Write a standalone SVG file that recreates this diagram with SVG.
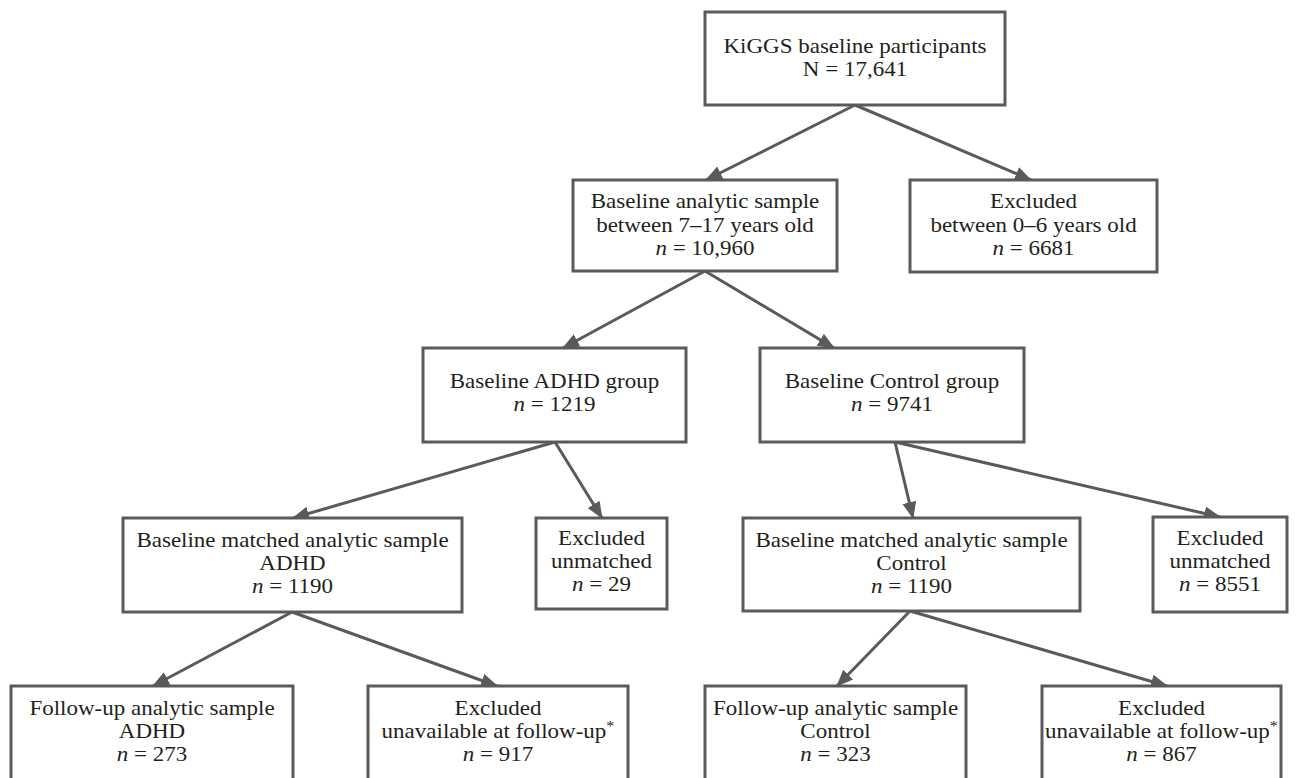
<svg xmlns="http://www.w3.org/2000/svg" width="1296" height="778" viewBox="0 0 1296 778">
<style>
.box{fill:#fff;stroke:#5a5a5a;stroke-width:3}
.t{font-family:"Liberation Serif","Times New Roman",serif;font-size:20px;fill:#231f20;text-anchor:middle}
.i{font-style:italic}
.s{font-size:14px}
.c{stroke:#5a5a5a;stroke-width:3;fill:none}
</style>
<defs>
<marker id="ah" markerUnits="userSpaceOnUse" markerWidth="20" markerHeight="16" refX="16" refY="7" orient="auto">
<path d="M0,0 L17,7 L0,14 z" fill="#5a5a5a"/>
</marker>
</defs>
<rect width="1296" height="778" fill="#fff"/>
<g id="connectors">
<line class="c" x1="855" y1="105" x2="706" y2="180" marker-end="url(#ah)"/>
<line class="c" x1="855" y1="105" x2="1031" y2="180" marker-end="url(#ah)"/>
<line class="c" x1="705" y1="271" x2="563" y2="348" marker-end="url(#ah)"/>
<line class="c" x1="705" y1="271" x2="834" y2="348" marker-end="url(#ah)"/>
<line class="c" x1="555" y1="442" x2="293" y2="518" marker-end="url(#ah)"/>
<line class="c" x1="555" y1="442" x2="602" y2="518" marker-end="url(#ah)"/>
<line class="c" x1="895" y1="442" x2="913" y2="518" marker-end="url(#ah)"/>
<line class="c" x1="895" y1="442" x2="1220" y2="517" marker-end="url(#ah)"/>
<line class="c" x1="292" y1="612" x2="153" y2="686" marker-end="url(#ah)"/>
<line class="c" x1="292" y1="612" x2="497" y2="686" marker-end="url(#ah)"/>
<line class="c" x1="910" y1="611" x2="837" y2="686" marker-end="url(#ah)"/>
<line class="c" x1="910" y1="611" x2="1167" y2="686" marker-end="url(#ah)"/>
</g>
<g id="n1"><rect class="box" x="705" y="12" width="300" height="93"/>
<g transform="translate(855 0) scale(1.15 1)">
<text class="t" x="0" y="53">KiGGS baseline participants</text>
<text class="t" x="0" y="76">N = 17,641</text></g></g>
<g id="n2"><rect class="box" x="573" y="180" width="264" height="91"/>
<g transform="translate(705 0) scale(1.15 1)">
<text class="t" x="0" y="208">Baseline analytic sample</text>
<text class="t" x="0" y="232">between 7–17 years old</text>
<text class="t" x="0" y="255"><tspan class="i">n</tspan> = 10,960</text></g></g>
<g id="n3"><rect class="box" x="910" y="180" width="247" height="92"/>
<g transform="translate(1033.5 0) scale(1.15 1)">
<text class="t" x="0" y="208">Excluded</text>
<text class="t" x="0" y="232">between 0–6 years old</text>
<text class="t" x="0" y="255"><tspan class="i">n</tspan> = 6681</text></g></g>
<g id="n4"><rect class="box" x="423" y="348" width="263" height="94"/>
<g transform="translate(554.5 0) scale(1.15 1)">
<text class="t" x="0" y="388">Baseline ADHD group</text>
<text class="t" x="0" y="411"><tspan class="i">n</tspan> = 1219</text></g></g>
<g id="n5"><rect class="box" x="760" y="348" width="264" height="94"/>
<g transform="translate(892 0) scale(1.15 1)">
<text class="t" x="0" y="388">Baseline Control group</text>
<text class="t" x="0" y="411"><tspan class="i">n</tspan> = 9741</text></g></g>
<g id="n6"><rect class="box" x="123" y="518" width="339" height="94"/>
<g transform="translate(292.5 0) scale(1.15 1)">
<text class="t" x="0" y="547">Baseline matched analytic sample</text>
<text class="t" x="0" y="570">ADHD</text>
<text class="t" x="0" y="593"><tspan class="i">n</tspan> = 1190</text></g></g>
<g id="n7"><rect class="box" x="536" y="518" width="131" height="91"/>
<g transform="translate(601.5 0) scale(1.15 1)">
<text class="t" x="0" y="545">Excluded</text>
<text class="t" x="0" y="568">unmatched</text>
<text class="t" x="0" y="591"><tspan class="i">n</tspan> = 29</text></g></g>
<g id="n8"><rect class="box" x="743" y="518" width="337" height="93"/>
<g transform="translate(911.5 0) scale(1.15 1)">
<text class="t" x="0" y="547">Baseline matched analytic sample</text>
<text class="t" x="0" y="570">Control</text>
<text class="t" x="0" y="593"><tspan class="i">n</tspan> = 1190</text></g></g>
<g id="n9"><rect class="box" x="1153" y="517" width="134" height="95"/>
<g transform="translate(1220 0) scale(1.15 1)">
<text class="t" x="0" y="545">Excluded</text>
<text class="t" x="0" y="568">unmatched</text>
<text class="t" x="0" y="591"><tspan class="i">n</tspan> = 8551</text></g></g>
<g id="n10"><rect class="box" x="11" y="686" width="282" height="110"/>
<g transform="translate(152 0) scale(1.15 1)">
<text class="t" x="0" y="715">Follow-up analytic sample</text>
<text class="t" x="0" y="738">ADHD</text>
<text class="t" x="0" y="761"><tspan class="i">n</tspan> = 273</text></g></g>
<g id="n11"><rect class="box" x="368" y="686" width="260" height="110"/>
<g transform="translate(498 0) scale(1.15 1)">
<text class="t" x="0" y="715">Excluded</text>
<text class="t" x="0" y="738">unavailable at follow-up<tspan class="s" dy="-7">*</tspan></text>
<text class="t" x="0" y="761"><tspan class="i">n</tspan> = 917</text></g></g>
<g id="n12"><rect class="box" x="705" y="686" width="261" height="110"/>
<g transform="translate(835.5 0) scale(1.15 1)">
<text class="t" x="0" y="715">Follow-up analytic sample</text>
<text class="t" x="0" y="738">Control</text>
<text class="t" x="0" y="761"><tspan class="i">n</tspan> = 323</text></g></g>
<g id="n13"><rect class="box" x="1042" y="686" width="239" height="110"/>
<g transform="translate(1161.5 0) scale(1.15 1)">
<text class="t" x="0" y="715">Excluded</text>
<text class="t" x="0" y="738">unavailable at follow-up<tspan class="s" dy="-7">*</tspan></text>
<text class="t" x="0" y="761"><tspan class="i">n</tspan> = 867</text></g></g>
</svg>
